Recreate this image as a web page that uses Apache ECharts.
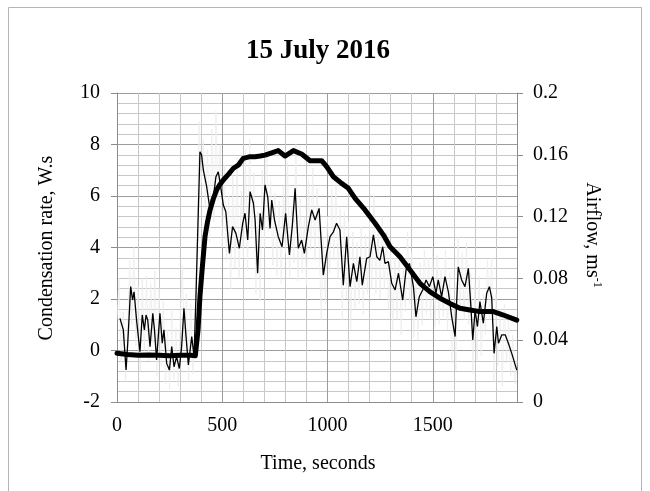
<!DOCTYPE html>
<html>
<head>
<meta charset="utf-8">
<script src="https://cdn.jsdelivr.net/npm/echarts@6/dist/echarts.min.js"></script>
<style>
html,body{margin:0;padding:0;background:#fff;}
#chart{width:650px;height:491px;}
</style>
</head>
<body>
<div id="chart"></div>
<script>
// ---- data ----
const titleText = '15 July 2016';
const xTickLabels = [0, 500, 1000, 1500];
const leftTickLabels = [-2, 0, 2, 4, 6, 8, 10];
const rightTickLabels = [0, 0.04, 0.08, 0.12, 0.16, 0.2];

// raw condensation rate (light grey), W.s
const rawT = [0,10,20,30,40,50,60,70,80,90,100,110,120,130,140,150,160,170,180,190,200,210,220,230,240,250,260,270,280,290,300,310,320,330,340,350,360,370,380,390,400,410,420,430,440,450,460,470,480,490,500,510,520,530,540,550,560,570,580,590,600,610,620,630,640,650,660,670,680,690,700,710,720,730,740,750,760,770,780,790,800,810,820,830,840,850,860,870,880,890,900,910,920,930,940,950,960,970,980,990,1000,1010,1020,1030,1040,1050,1060,1070,1080,1090,1100,1110,1120,1130,1140,1150,1160,1170,1180,1190,1200,1210,1220,1230,1240,1250,1260,1270,1280,1290,1300,1310,1320,1330,1340,1350,1360,1370,1380,1390,1400,1410,1420,1430,1440,1450,1460,1470,1480,1490,1500,1510,1520,1530,1540,1550,1560,1570,1580,1590,1600,1610,1620,1630,1640,1650,1660,1670,1680,1690,1700,1710,1720,1730,1740,1750,1760,1770,1780,1790,1800,1810,1820,1830,1840,1850,1860,1870,1880,1890,1900];
const rawV = [1.2,2.8,-0.5,1.5,-1.2,0.5,3.5,1.0,4.0,0.2,
  2.5,-0.8,2.8,0.0,2.9,-0.4,2.6,0.3,3.1,-1.0,
  2.4,-0.6,1.9,-1.3,0.8,-1.5,1.6,-1.1,0.9,-1.4,
  1.2,3.3,0.4,2.2,-1.2,1.8,-0.9,0.6,4.5,8.9,
  6.5,8.2,5.5,7.8,4.2,8.6,5.0,9.3,5.8,8.0,
  4.0,7.2,3.5,6.0,2.4,6.8,3.2,7.5,2.8,6.2,
  3.6,7.8,3.1,8.2,4.4,6.9,2.2,5.4,1.9,7.0,
  4.0,8.4,4.6,6.6,3.3,6.1,2.9,5.8,2.6,6.4,
  3.8,7.3,2.8,5.6,3.4,8.0,2.7,5.9,3.0,5.2,
  2.5,6.6,3.9,7.1,3.5,6.3,4.2,1.2,4.4,1.8,
  5.2,3.0,6.3,3.5,6.5,2.8,5.5,1.2,5.4,2.0,
  5.0,0.8,4.6,1.6,4.2,1.8,4.8,1.4,4.5,2.2,
  5.0,2.4,6.0,2.2,4.8,2.0,5.2,2.4,4.6,1.6,
  3.8,0.8,3.6,1.2,4.0,0.6,3.2,1.5,4.6,1.8,
  3.8,0.5,2.6,0.4,3.4,1.0,3.9,1.4,3.6,1.2,
  4.0,0.9,3.7,1.0,3.2,1.3,3.9,0.8,3.0,-0.5,
  1.8,-0.8,4.4,1.6,3.8,1.2,4.2,1.0,3.0,-0.9,
  2.6,-0.4,2.9,-0.2,2.2,0.6,3.5,1.2,3.6,-1.2,
  2.2,-0.6,1.6,-1.4,1.8,-0.5,1.2,-1.0,0.6,-1.3,
  -0.4];

// smoothed condensation rate (thin black), W.s
const thinT = [14,30,43,51,65,74,81,93,101,109,120,130,138,146,157,170,178,188,204,215,223,236,249,260,271,283,296,307,318,328,339,355,366,375,386,394,402,410,426,442,458,470,481,489,505,517,534,549,565,581,597,608,621,632,648,656,668,680,691,703,716,727,735,748,766,784,801,819,833,846,861,877,890,909,925,941,960,980,996,1012,1028,1043,1059,1075,1091,1107,1123,1139,1154,1165,1186,1202,1218,1234,1249,1262,1273,1289,1305,1321,1337,1357,1373,1389,1408,1420,1436,1452,1468,1484,1500,1515,1526,1542,1558,1574,1590,1606,1621,1637,1653,1669,1680,1690,1701,1712,1724,1740,1756,1769,1780,1791,1804,1812,1828,1844,1859,1875,1899];
const thinV = [1.25,0.8,-0.76,0.28,2.48,1.96,2.28,1.18,1.25,-0.05,1.38,0.8,1.38,1.18,0.15,1.44,0.8,-0.37,1.44,0.28,0.8,-0.5,-0.76,0.15,-0.63,-0.24,-0.7,0.15,1.64,0.54,-0.56,0.54,-0.24,2.09,5.33,7.72,7.59,7.01,6.36,5.46,5.97,6.75,6.94,6.56,5.65,5.39,3.77,4.81,4.55,3.97,4.94,5.33,4.29,6.17,5.72,5.07,3.0,5.33,4.68,6.43,5.97,4.74,5.84,5.07,4.42,4.03,5.33,3.71,4.87,6.30,3.97,4.29,3.77,4.81,5.46,5.07,5.52,2.93,3.77,4.42,4.61,4.94,4.68,2.54,4.42,2.48,3.38,2.67,3.64,2.54,3.58,3.64,4.49,3.64,3.5,4.03,3.38,3.45,2.61,2.35,3.0,1.96,3.13,3.38,2.48,1.31,2.09,2.35,2.74,2.48,2.87,2.22,2.74,2.09,2.87,2.28,1.31,0.54,3.25,2.74,2.48,3.19,1.83,0.41,1.57,0.93,1.9,1.06,2.22,2.48,2.03,-0.11,0.93,0.28,0.61,0.61,0.28,-0.11,-0.76];

// airflow (thick black), m/s
const airT = [0,50,100,150,200,250,300,350,372,385,394,405,418,430,442,458,473,490,505,530,553,576,600,632,656,680,703,735,766,798,838,877,917,972,996,1028,1067,1099,1131,1178,1226,1265,1297,1344,1392,1439,1487,1534,1582,1629,1677,1724,1788,1835,1899];
const airV = [0.0315,0.0308,0.0303,0.0305,0.0303,0.030,0.0302,0.0303,0.030,0.0467,0.0682,0.0867,0.107,0.1167,0.1243,0.1317,0.1372,0.141,0.1437,0.1475,0.1513,0.1533,0.1577,0.1588,0.1588,0.1592,0.1598,0.1613,0.1627,0.1592,0.1627,0.1605,0.1562,0.1562,0.1523,0.1458,0.1415,0.1383,0.1318,0.1243,0.1157,0.1082,0.1005,0.094,0.0855,0.0768,0.0713,0.0672,0.0638,0.0607,0.0595,0.0585,0.0585,0.0563,0.053];

// ---- chart ----
const FONT = '"Liberation Serif", "Times New Roman", serif';
const pair = (ts, vs) => ts.map((t, i) => [t, vs[i]]);
const MAJOR = '#9c9c9c', MINOR = '#c8c8c8', AXIS = '#8c8c8c';

const chart = echarts.init(document.getElementById('chart'), null, {renderer: 'canvas'});
chart.setOption({
  animation: false,
  backgroundColor: '#fff',
  grid: {left: 117, right: 133, top: 93, bottom: 89, containLabel: false},
  xAxis: {
    type: 'value', min: 0, max: 1900, interval: 100,
    axisLine: {show: true, onZero: false, lineStyle: {color: AXIS, width: 1}},
    axisTick: {show: false},
    axisLabel: {
      margin: 14, color: '#000', fontFamily: FONT, fontSize: 20,
      formatter: v => (xTickLabels.indexOf(v) >= 0 ? String(v) : '')
    },
    splitLine: {show: true, lineStyle: {color: [MAJOR, MINOR, MINOR, MINOR, MINOR], width: 1}}
  },
  yAxis: [{
    type: 'value', min: -2, max: 10, interval: 2, position: 'left',
    axisLine: {show: true, onZero: false, lineStyle: {color: AXIS, width: 1}},
    axisTick: {show: true, length: 6, lineStyle: {color: AXIS}},
    axisLabel: {
      margin: 17, color: '#000', fontFamily: FONT, fontSize: 20,
      formatter: v => (leftTickLabels.indexOf(v) >= 0 ? String(v) : '')
    },
    splitLine: {show: true, lineStyle: {color: MAJOR, width: 1}},
    minorTick: {show: false, splitNumber: 5},
    minorSplitLine: {show: true, lineStyle: {color: MINOR, width: 1}}
  }, {
    type: 'value', min: 0, max: 0.2, interval: 0.04, position: 'right',
    axisLine: {show: true, onZero: false, lineStyle: {color: AXIS, width: 1}},
    axisTick: {show: true, length: 6, lineStyle: {color: AXIS}},
    axisLabel: {
      margin: 16, color: '#000', fontFamily: FONT, fontSize: 20,
      formatter: v => {
        const r = Math.round(v * 100) / 100;
        const hit = rightTickLabels.find(x => Math.abs(x - r) < 1e-9);
        return hit === undefined ? '' : String(hit);
      }
    },
    splitLine: {show: false}
  }],
  series: [{
    name: 'raw', type: 'line', yAxisIndex: 0, data: pair(rawT, rawV),
    showSymbol: false, symbol: 'none', smooth: false,
    lineStyle: {color: '#ececec', width: 0.8}, z: 2
  }, {
    name: 'condensation', type: 'line', yAxisIndex: 0, data: pair(thinT, thinV),
    showSymbol: false, symbol: 'none', smooth: false,
    lineStyle: {color: '#000', width: 1.3}, z: 3
  }, {
    name: 'airflow', type: 'line', yAxisIndex: 1, data: pair(airT, airV),
    showSymbol: false, symbol: 'none', smooth: false,
    lineStyle: {color: '#000', width: 5, join: 'round', cap: 'round'}, z: 4
  }],
  graphic: [{
    type: 'rect', silent: true, z: -1,
    shape: {x: 8.5, y: 7.5, width: 633, height: 520},
    style: {fill: 'none', stroke: '#b5b5b5', lineWidth: 1}
  }, {
    type: 'text', x: 318, y: 51,
    style: {text: titleText, font: 'bold 27px ' + FONT, fill: '#000',
      align: 'center', verticalAlign: 'middle', textAlign: 'center', textVerticalAlign: 'middle'}
  }, {
    type: 'text', x: 318, y: 464,
    style: {text: 'Time, seconds', font: '20px ' + FONT, fill: '#000',
      align: 'center', verticalAlign: 'middle', textAlign: 'center', textVerticalAlign: 'middle'}
  }, {
    type: 'text', x: 47, y: 248, rotation: Math.PI / 2,
    style: {text: 'Condensation rate, W.s', font: '20px ' + FONT, fill: '#000',
      align: 'center', verticalAlign: 'middle', textAlign: 'center', textVerticalAlign: 'middle'}
  }, {
    type: 'text', x: 592, y: 235, rotation: -Math.PI / 2,
    style: {
      text: '{a|Airflow, ms}{b|-1}',
      fill: '#000',
      align: 'center', verticalAlign: 'middle', textAlign: 'center', textVerticalAlign: 'middle',
      rich: {
        a: {fontFamily: FONT, fontSize: 20, fill: '#000', lineHeight: 22},
        b: {fontFamily: FONT, fontSize: 12, fill: '#000', verticalAlign: 'top', lineHeight: 22}
      }
    }
  }]
});
</script>
</body>
</html>
